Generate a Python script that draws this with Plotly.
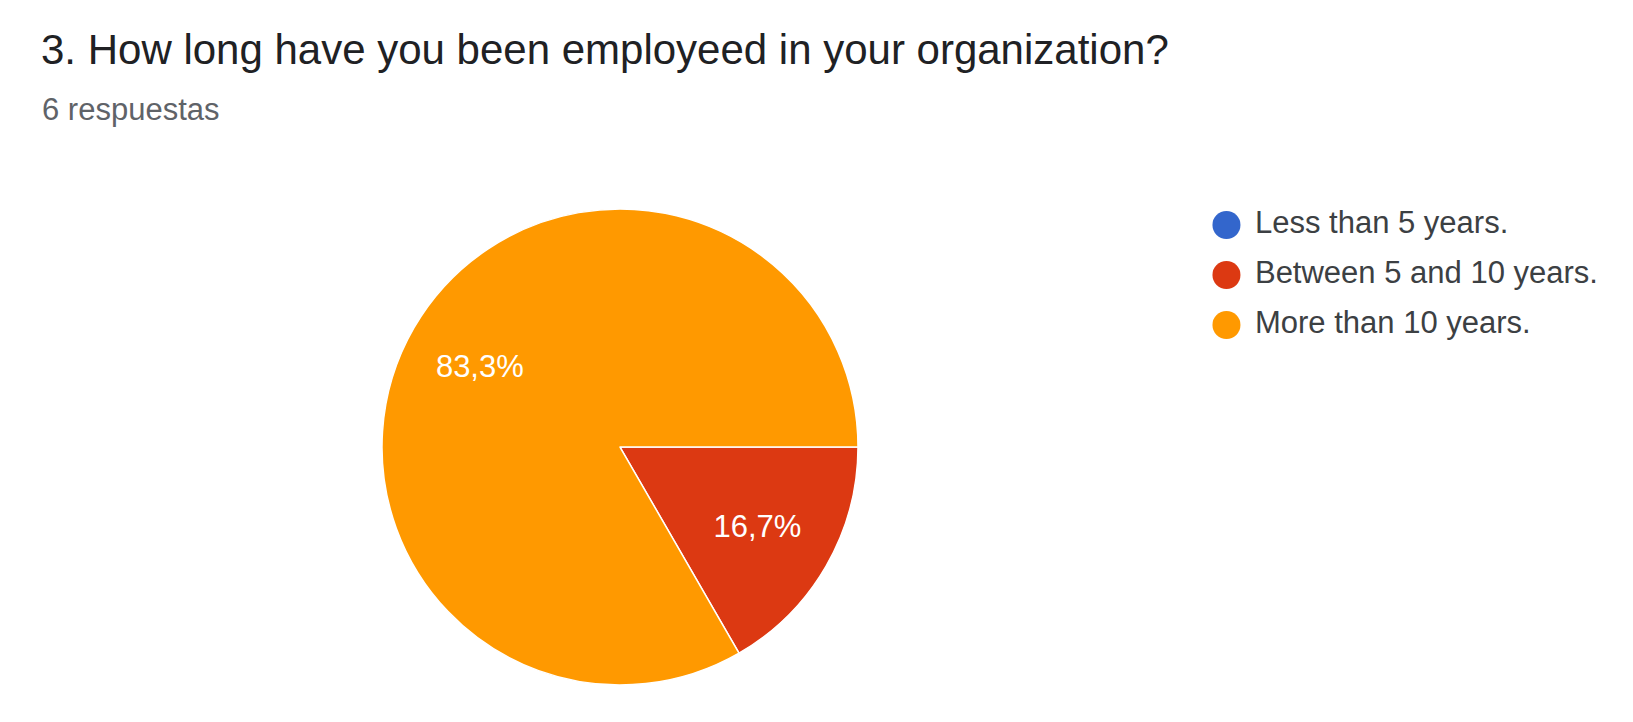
import plotly.graph_objects as go

title_text = "3. How long have you been employeed in your organization?"
subtitle_text = "6 respuestas"
categories = ["Less than 5 years.", "Between 5 and 10 years.", "More than 10 years."]
counts = [0, 1, 5]
colors = ["#3366cc", "#dc3912", "#ff9900"]

W, H = 1633, 722
FONT = "Liberation Sans, Arial, sans-serif"
pie_domain = dict(x=[374 / W, 850 / W], y=[1 - 677 / H, 1 - 201 / H])

fig = go.Figure()

# pie slices (label shown for small slice)
fig.add_trace(go.Pie(
    labels=categories,
    values=counts,
    marker=dict(colors=colors, line=dict(color="white", width=1.5)),
    sort=False,
    direction="clockwise",
    rotation=90,
    texttemplate=["", "%{percent:.1%}", ""],
    textposition="inside",
    insidetextorientation="horizontal",
    textfont=dict(family=FONT, size=31, color="white"),
    showlegend=False,
    hoverinfo="label+percent",
    domain=pie_domain,
))

# transparent ring overlay to place the large slice's label further out
fig.add_trace(go.Pie(
    labels=categories,
    values=counts,
    hole=0.36,
    marker=dict(colors=["rgba(0,0,0,0)"] * 3, line=dict(width=0)),
    sort=False,
    direction="clockwise",
    rotation=90,
    texttemplate=["", "", "%{percent:.1%}"],
    textposition="inside",
    insidetextorientation="horizontal",
    textfont=dict(family=FONT, size=31, color="white"),
    showlegend=False,
    hoverinfo="skip",
    domain=pie_domain,
))

# custom legend: circular swatches
fig.add_trace(go.Scatter(
    x=[0] * len(categories),
    y=list(range(len(categories))),
    mode="markers",
    marker=dict(symbol="circle", size=28, color=colors),
    showlegend=False,
    hoverinfo="skip",
    cliponaxis=False,
))
# legend labels
fig.add_trace(go.Scatter(
    x=[0] * len(categories),
    y=list(range(len(categories))),
    mode="markers+text",
    marker=dict(symbol="circle", size=44, color="rgba(0,0,0,0)"),
    text=categories,
    textposition="middle right",
    textfont=dict(family=FONT, size=31, color="#3c4043"),
    showlegend=False,
    hoverinfo="skip",
    cliponaxis=False,
))

fig.update_layout(
    width=W, height=H,
    margin=dict(l=0, r=0, t=0, b=0),
    paper_bgcolor="white",
    plot_bgcolor="white",
    separators=",.",
    showlegend=False,
    xaxis=dict(domain=[1192 / W, 1.0], range=[-0.06, 0.94], visible=False, fixedrange=True),
    yaxis=dict(domain=[1 - 342 / H, 1 - 192 / H], range=[2.5, -0.5], visible=False, fixedrange=True),
    annotations=[
        dict(text=title_text, x=31 / W, y=1 - 41 / H, xref="paper", yref="paper",
             xanchor="left", yanchor="middle", showarrow=False,
             font=dict(family=FONT, size=42, color="#202124")),
        dict(text=subtitle_text, x=32 / W, y=1 - 101 / H, xref="paper", yref="paper",
             xanchor="left", yanchor="middle", showarrow=False,
             font=dict(family=FONT, size=31, color="#5f6368")),
    ],
)

fig.write_html("out.html")
